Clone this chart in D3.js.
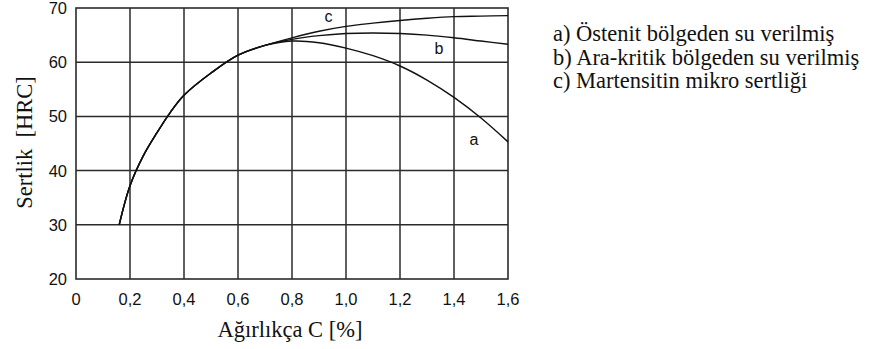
<!DOCTYPE html>
<html>
<head>
<meta charset="utf-8">
<script src="https://cdn.jsdelivr.net/npm/d3@7"></script>
<style>
  html, body { margin: 0; padding: 0; background: #fff; }
  svg { display: block; }
</style>
</head>
<body>
<svg id="chart" width="874" height="349"></svg>
<script>
// Carbon content [%] on the x axis, hardness [HRC] on the y axis
const xTicks = [0, 0.2, 0.4, 0.6, 0.8, 1.0, 1.2, 1.4, 1.6];
const yTicks = [20, 30, 40, 50, 60, 70];

// shared rising branch of all three curves
const sharedC   = [0.16, 0.20, 0.25, 0.30, 0.35, 0.40, 0.50, 0.60, 0.70];
const sharedHRC = [30.0, 37.2, 42.8, 47.0, 50.8, 53.9, 58.0, 61.3, 63.1];

// a) quenched from the austenite region
const curveA_C   = [0.80, 0.90, 1.00, 1.10, 1.20, 1.30, 1.40, 1.50, 1.60];
const curveA_HRC = [63.9, 63.6, 62.6, 61.2, 59.3, 56.7, 53.5, 49.7, 45.3];
// b) quenched from the intercritical region
const curveB_C   = [0.80, 0.90, 1.00, 1.10, 1.20, 1.30, 1.40, 1.50, 1.60];
const curveB_HRC = [64.2, 64.9, 65.3, 65.4, 65.3, 65.0, 64.5, 63.9, 63.3];
// c) martensite micro-hardness
const curveC_C   = [0.80, 0.90, 1.00, 1.10, 1.20, 1.30, 1.40, 1.50, 1.60];
const curveC_HRC = [64.5, 65.7, 66.6, 67.2, 67.7, 68.1, 68.4, 68.5, 68.6];

const curveLetters = ["a", "b", "c"];
const letterC   = [1.474, 1.344, 0.935];
const letterHRC = [45.6, 62.4, 68.3];

const legendLines = [
  "a) Östenit bölgeden su verilmiş",
  "b) Ara-kritik bölgeden su verilmiş",
  "c) Martensitin mikro sertliği"
];
const xTitle = "Ağırlıkça C [%]";
const yTitle = "Sertlik\u00a0\u00a0[HRC]";

const serifFont = '"Liberation Serif", "Times New Roman", Times, serif';
const sansFont = '"Liberation Sans", Arial, Helvetica, sans-serif';

const svg = d3.select("#chart");
const plotLeft = 76, plotRight = 508, plotTop = 8, plotBottom = 279;
const x = d3.scaleLinear().domain([0, 1.6]).range([plotLeft, plotRight]);
const y = d3.scaleLinear().domain([20, 70]).range([plotBottom, plotTop]);

const gridColor = "#2b2b2b";

// grid lines
svg.append("g").selectAll("line")
  .data(xTicks.slice(1, -1)).join("line")
  .attr("x1", d => x(d)).attr("x2", d => x(d))
  .attr("y1", plotTop).attr("y2", plotBottom)
  .attr("stroke", gridColor).attr("stroke-width", 1.5);
svg.append("g").selectAll("line")
  .data(yTicks.slice(1, -1)).join("line")
  .attr("x1", plotLeft).attr("x2", plotRight)
  .attr("y1", d => y(d)).attr("y2", d => y(d))
  .attr("stroke", gridColor).attr("stroke-width", 1.5);

// frame
svg.append("rect")
  .attr("x", plotLeft).attr("y", plotTop)
  .attr("width", plotRight - plotLeft).attr("height", plotBottom - plotTop)
  .attr("fill", "none").attr("stroke", gridColor).attr("stroke-width", 1.6);

// tick labels
svg.append("g").selectAll("text")
  .data(xTicks).join("text")
  .style("font-family", sansFont)
  .attr("x", d => x(d)).attr("y", 305)
  .attr("text-anchor", "middle")
  .attr("font-size", 16.5).attr("fill", "#111")
  .text(d => d === 0 ? "0" : d3.format(".1f")(d).replace(".", ","));
svg.append("g").selectAll("text")
  .data(yTicks).join("text")
  .style("font-family", sansFont)
  .attr("x", 67).attr("y", d => y(d) + 6)
  .attr("text-anchor", "end")
  .attr("font-size", 16.5).attr("fill", "#111")
  .text(d => d);

// axis titles
svg.append("text")
  .style("font-family", serifFont)
  .attr("x", 290).attr("y", 337)
  .attr("text-anchor", "middle")
  .attr("font-size", 22.5).attr("fill", "#111")
  .text(xTitle);
svg.append("text")
  .style("font-family", serifFont)
  .attr("transform", "translate(32,142.5) rotate(-90)")
  .attr("text-anchor", "middle")
  .attr("font-size", 22.5).attr("fill", "#111")
  .text(yTitle);

// curves
const line = d3.line()
  .x(d => x(d[0])).y(d => y(d[1]))
  .curve(d3.curveCatmullRom.alpha(0.5));
const zipPts = (cs, hs) => cs.map((c, i) => [c, hs[i]]);
const shared = zipPts(sharedC, sharedHRC);
const series = [
  shared.concat(zipPts(curveA_C, curveA_HRC)),
  shared.concat(zipPts(curveB_C, curveB_HRC)),
  shared.concat(zipPts(curveC_C, curveC_HRC))
];
svg.append("g").selectAll("path")
  .data(series).join("path")
  .attr("d", line)
  .attr("fill", "none").attr("stroke", "#111").attr("stroke-width", 1.4);

// curve letters
svg.append("g").selectAll("text")
  .data(curveLetters).join("text")
  .style("font-family", sansFont)
  .attr("x", (d, i) => x(letterC[i])).attr("y", (d, i) => y(letterHRC[i]) + 5)
  .attr("text-anchor", "middle")
  .attr("font-size", 16).attr("fill", "#111")
  .text(d => d);

// legend text
svg.append("g").selectAll("text")
  .data(legendLines).join("text")
  .style("font-family", serifFont)
  .attr("x", 553).attr("y", (d, i) => 41 + i * 23.5)
  .attr("font-size", 22.5).attr("fill", "#111")
  .text(d => d);
</script>
</body>
</html>
